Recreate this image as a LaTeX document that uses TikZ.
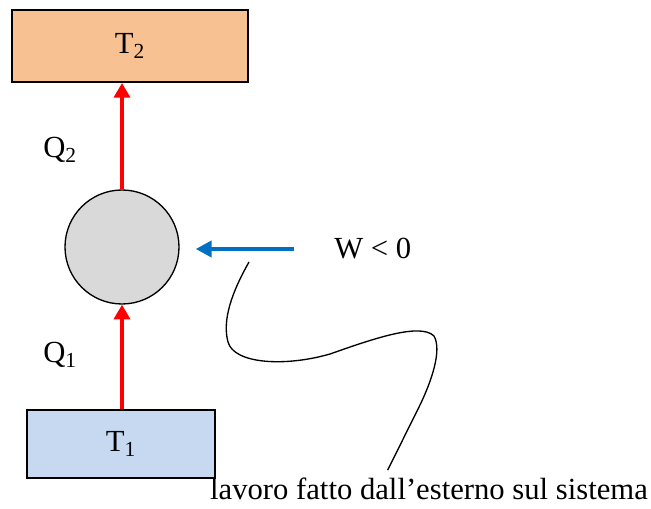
\documentclass[tikz,border=0pt]{standalone}
\usepackage{fontspec}
\setmainfont{Liberation Serif}
\usetikzlibrary{arrows.meta,positioning}

\definecolor{hotfill}{HTML}{F8C191}
\definecolor{coldfill}{HTML}{C6D9F1}
\definecolor{sysfill}{HTML}{D9D9D9}
\definecolor{workblue}{HTML}{0070C0}

\begin{document}
\begin{tikzpicture}[
  x=0.75pt, y=-0.75pt,
  font=\fontsize{23}{27}\selectfont,
  res/.style={draw,line width=1.5pt,inner sep=0pt},
  sys/.style={circle,draw,line width=1pt,fill=sysfill,minimum size=85.5pt,inner sep=0pt},
  heat/.style={-{Triangle[length=11pt,width=12pt]},line width=3pt,red},
  work/.style={-{Triangle[length=12pt,width=12pt]},line width=3pt,workblue},
  lbl/.style={inner sep=0pt},
]
\useasboundingbox (0,0) rectangle (651,509);

% reservoirs and system
\node[sys] (body) at (122,247) {};
\node[res,fill=hotfill,minimum width=177pt,minimum height=54pt] (hot) at (130,46) {T\textsubscript{2}};
\node[res,fill=coldfill,minimum width=141pt,minimum height=51pt] (cold) at (121,444) {T\textsubscript{1}};

% heat flows
\draw[heat] (body.south |- cold.north) -- (body.south);
\draw[heat] (body.north) -- (body.north |- hot.south);
\node[lbl,anchor=base west] (q2) at (43,158) {Q\textsubscript{2}};
\node[lbl,anchor=base west] (q1) at (43,363) {Q\textsubscript{1}};

% work
\node[lbl,anchor=base west] (wlab) at (334,259) {W < 0};
\coordinate (wtail) at (294,249);
\draw[work,shorten >=12pt] (wtail) -- (wtail -| body.east);

% note
\node[lbl,anchor=base] (note) at (429,500) {lavoro fatto dall’esterno sul sistema};
\coordinate (wiggle) at (249,262);
\draw[line width=1pt] (wiggle) .. controls (232,292) and (222,320) .. (228,342)
  .. controls (234,364) and (285,367) .. (330,354)
  .. controls (370,340) and (420,322) .. (434,336)
  .. controls (442,350) and (432,380) .. (420,405)
  -- ([xshift=-31pt,yshift=6pt]note.north);
\end{tikzpicture}
\end{document}
